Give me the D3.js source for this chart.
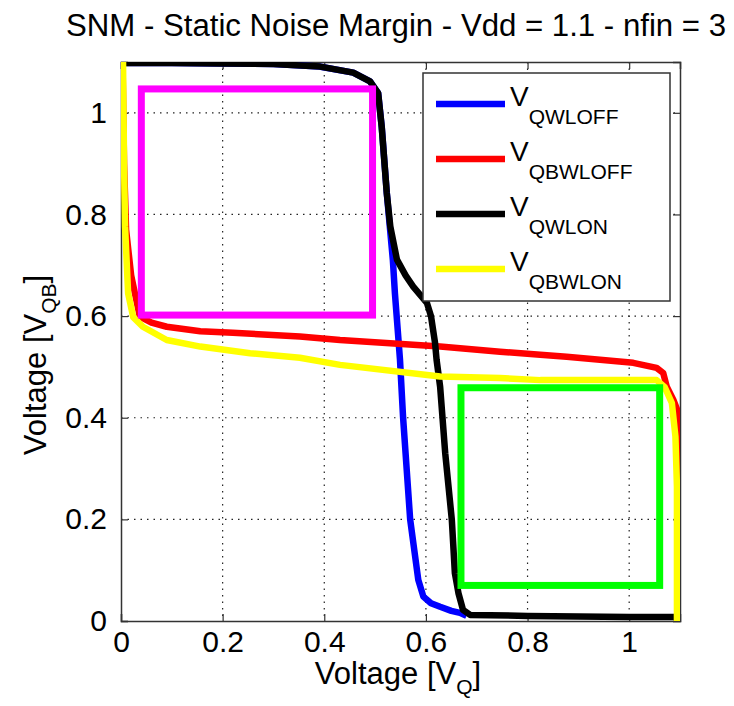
<!DOCTYPE html>
<html>
<head>
<meta charset="utf-8">
<script src="https://cdn.jsdelivr.net/npm/d3@7"></script>
<style>
  body { margin: 0; background: #fff; }
  text { font-family: "Liberation Sans", Arial, sans-serif; fill: #000; }
</style>
</head>
<body>
<div id="chart"></div>
<script>
// curves, [VQ, VQB]
var qwlOff = [[0, 1.098], [0.1, 1.098], [0.2, 1.097], [0.3, 1.096], [0.39, 1.091], [0.457, 1.079], [0.49, 1.062],
  [0.506, 1.039], [0.513, 0.973], [0.523, 0.842], [0.529, 0.776], [0.535, 0.71], [0.539, 0.645], [0.543, 0.593],
  [0.549, 0.514], [0.555, 0.402], [0.569, 0.2], [0.585, 0.081], [0.595, 0.048], [0.61, 0.035], [0.628, 0.028],
  [0.65, 0.02], [0.667, 0.016], [0.68, 0.01]];
var qbwlOff = [[0.003, 1.1], [0.006, 0.9], [0.01, 0.77], [0.02, 0.68], [0.037, 0.599], [0.06, 0.587], [0.09, 0.579],
  [0.156, 0.57], [0.22, 0.567], [0.352, 0.56], [0.431, 0.553], [0.628, 0.54], [0.746, 0.53], [0.825, 0.524],
  [0.877, 0.52], [1.008, 0.508], [1.054, 0.498], [1.067, 0.488], [1.074, 0.461], [1.087, 0.435], [1.097, 0.409],
  [1.098, 0.3], [1.099, 0.1], [1.099, 0]];
var qwlOn = [[0.003, 1.098], [0.1, 1.098], [0.2, 1.097], [0.3, 1.096], [0.392, 1.091], [0.457, 1.079], [0.49, 1.062],
  [0.506, 1.039], [0.513, 0.973], [0.523, 0.842], [0.53, 0.776], [0.543, 0.711], [0.56, 0.68], [0.575, 0.658],
  [0.602, 0.626], [0.61, 0.6], [0.618, 0.547], [0.621, 0.514], [0.628, 0.461], [0.638, 0.33], [0.651, 0.199],
  [0.657, 0.094], [0.664, 0.055], [0.673, 0.022], [0.687, 0.012], [0.8, 0.01], [0.9, 0.009], [1.0, 0.008], [1.1, 0.008]];
var qbwlOn = [[0.004, 1.1], [0.006, 0.9], [0.008, 0.776], [0.014, 0.645], [0.024, 0.598], [0.043, 0.579], [0.09, 0.553],
  [0.156, 0.54], [0.254, 0.527], [0.352, 0.518], [0.431, 0.504], [0.628, 0.481], [0.746, 0.478], [0.825, 0.474],
  [1.054, 0.474], [1.07, 0.46], [1.084, 0.429], [1.091, 0.363], [1.094, 0.264], [1.094, 0.1], [1.094, 0]];

var seriesNames = ["QWLOFF", "QBWLOFF", "QWLON", "QBWLON"];
var seriesData = [qwlOff, qbwlOff, qwlOn, qbwlOn];
var seriesColors = ["#0000ff", "#ff0000", "#000000", "#ffff00"];

// noise margin squares
var boxX0 = [0.04, 0.669],
    boxX1 = [0.495, 1.06],
    boxY0 = [0.602, 0.07],
    boxY1 = [1.047, 0.459];
var boxColors = ["#ff00ff", "#00ff00"];

var xTicks = [0, 0.2, 0.4, 0.6, 0.8, 1],
    yTicks = [0, 0.2, 0.4, 0.6, 0.8, 1];

var margins = { top: 62, right: 54, bottom: 85, left: 121 },
    width = 734 - margins.left - margins.right,
    height = 706 - margins.top - margins.bottom;

var xScale = d3.scaleLinear().domain([0, 1.1]).range([0, width]);
var yScale = d3.scaleLinear().domain([0, 1.1]).range([height, 0]);

var svg = d3.select("#chart").append("svg")
    .attr("width", 734)
    .attr("height", 706);

svg.append("text")
    .attr("x", 396)
    .attr("y", 36)
    .attr("text-anchor", "middle")
    .attr("textLength", 660)
    .attr("lengthAdjust", "spacingAndGlyphs")
    .style("font-size", "31px")
    .text("SNM - Static Noise Margin - Vdd = 1.1 - nfin = 3");

var g = svg.append("g")
    .attr("transform", "translate(" + margins.left + "," + margins.top + ")");

svg.append("defs").append("clipPath").attr("id", "plotclip")
    .append("rect").attr("width", width).attr("height", height);

// dotted grid
g.append("g").selectAll("line").data(xTicks.slice(1)).enter().append("line")
    .attr("x1", d => xScale(d)).attr("x2", d => xScale(d))
    .attr("y1", 0).attr("y2", height)
    .attr("stroke", "#222").attr("stroke-width", 1.2).attr("stroke-dasharray", "1.5,5");
g.append("g").selectAll("line").data(yTicks.slice(1)).enter().append("line")
    .attr("y1", d => yScale(d)).attr("y2", d => yScale(d))
    .attr("x1", 0).attr("x2", width)
    .attr("stroke", "#222").attr("stroke-width", 1.2).attr("stroke-dasharray", "1.5,5");

// axes with inward ticks on all four sides
var xAxis = g.append("g").attr("transform", "translate(0," + height + ")")
    .call(d3.axisBottom(xScale).tickValues(xTicks).tickSize(-7).tickPadding(10).tickFormat(d3.format("")));
var yAxis = g.append("g")
    .call(d3.axisLeft(yScale).tickValues(yTicks).tickSize(-7).tickPadding(14).tickFormat(d3.format("")));
g.append("g").call(d3.axisTop(xScale).tickValues(xTicks).tickSize(-7).tickFormat(""));
g.append("g").attr("transform", "translate(" + width + ",0)")
    .call(d3.axisRight(yScale).tickValues(yTicks).tickSize(-7).tickFormat(""));

g.selectAll(".domain").attr("stroke", "#333").attr("stroke-width", 1.5);
g.selectAll(".tick line").attr("stroke", "#333").attr("stroke-width", 1.2);
g.selectAll(".tick text").style("font-size", "30px").style("font-family", "Liberation Sans, Arial, sans-serif");

var plot = g.append("g").attr("clip-path", "url(#plotclip)");

var line = d3.line()
    .x(d => xScale(d[0]))
    .y(d => yScale(d[1]));

plot.selectAll("path.curve").data(seriesData).enter().append("path")
    .attr("class", "curve")
    .attr("d", line)
    .attr("fill", "none")
    .attr("stroke", (d, i) => seriesColors[i])
    .attr("stroke-width", 6.5)
    .attr("stroke-linejoin", "round");

plot.selectAll("rect.box").data(boxX0).enter().append("rect")
    .attr("class", "box")
    .attr("x", (d, i) => xScale(boxX0[i]))
    .attr("y", (d, i) => yScale(boxY1[i]))
    .attr("width", (d, i) => xScale(boxX1[i]) - xScale(boxX0[i]))
    .attr("height", (d, i) => yScale(boxY0[i]) - yScale(boxY1[i]))
    .attr("fill", "none")
    .attr("stroke", (d, i) => boxColors[i])
    .attr("stroke-width", 7);

// legend
var legend = g.append("g").attr("transform", "translate(302,11)");
legend.append("rect")
    .attr("width", 247).attr("height", 228)
    .attr("fill", "#fff").attr("stroke", "#333").attr("stroke-width", 1.5);
var item = legend.selectAll("g.item").data(seriesNames).enter().append("g")
    .attr("class", "item")
    .attr("transform", (d, i) => "translate(0," + (31 + i * 55) + ")");
item.append("line")
    .attr("x1", 13).attr("x2", 82)
    .attr("stroke", (d, i) => seriesColors[i])
    .attr("stroke-width", 6.5);
var label = item.append("text")
    .attr("x", 87).attr("y", 2);
label.append("tspan").style("font-size", "28px").text("V");
label.append("tspan").attr("dy", 18).style("font-size", "21px").text(d => d);

// axis titles
var xl = svg.append("text")
    .attr("x", 398).attr("y", 684)
    .attr("text-anchor", "middle")
    .style("font-size", "31px");
xl.append("tspan").text("Voltage [V");
xl.append("tspan").attr("dy", 10).style("font-size", "21px").text("Q");
xl.append("tspan").attr("dy", -10).text("]");

var yl = svg.append("text")
    .attr("transform", "translate(46,365) rotate(-90)")
    .attr("text-anchor", "middle")
    .style("font-size", "31px");
yl.append("tspan").text("Voltage [V");
yl.append("tspan").attr("dy", 10).style("font-size", "21px").text("QB");
yl.append("tspan").attr("dy", -10).text("]");
</script>
</body>
</html>
